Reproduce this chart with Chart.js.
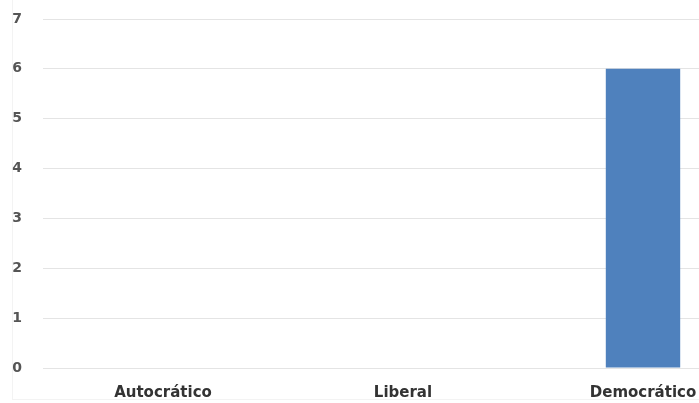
<!DOCTYPE html>
<html>
<head>
<meta charset="utf-8">
<script src="https://cdn.jsdelivr.net/npm/chart.js@4/dist/chart.umd.min.js"></script>
<style>
  html, body { margin: 0; padding: 0; background: #fff; }
  #wrap { position: relative; width: 699px; height: 403px; overflow: hidden; }
  #frame { position: absolute; left: 12px; top: 0; width: 700px; height: 399px;
           border-left: 1px solid #f3f3f3; border-bottom: 1px solid #f3f3f3; }
  canvas { position: absolute; left: 0; top: 0; }
</style>
</head>
<body>
<div id="wrap">
  <div id="frame"></div>
  <canvas id="grafico" width="770" height="403"></canvas>
</div>
<script>
// estilos de liderazgo y cantidad de respuestas
var estilos = ["Autocrático", "Liberal", "Democrático"];
var respuestas = [0, 0, 6];
var marcasY = [0, 1, 2, 3, 4, 5, 6, 7];

var ctx = document.getElementById("grafico").getContext("2d");
var grafico = new Chart(ctx, {
  type: 'bar',
  data: {
    labels: estilos,
    datasets: [{
      data: respuestas,
      backgroundColor: '#4f81bd',
      barPercentage: 0.31,
      categoryPercentage: 1
    }]
  },
  options: {
    responsive: false,
    animation: false,
    layout: { padding: { top: 19, right: 7, left: 0, bottom: 0 } },
    plugins: { legend: { display: false }, tooltip: { enabled: false } },
    scales: {
      x: {
        grid: { display: false, drawTicks: false },
        border: { display: false },
        ticks: {
          padding: 16,
          color: '#333333',
          font: { family: 'DejaVu Sans', size: 15, weight: 'bold' }
        },
        afterFit: function(scale) { scale.height = 35; }
      },
      y: {
        min: 0,
        max: 7,
        afterBuildTicks: function(scale) {
          scale.ticks = marcasY.map(function(v) { return { value: v }; });
        },
        grid: { color: '#e4e4e4', drawTicks: false },
        border: { display: false },
        ticks: {
          padding: 21,
          color: '#555555',
          font: { family: 'DejaVu Sans', size: 14, weight: 'bold' }
        },
        afterFit: function(scale) {
          scale.width = 43;
          // el padding de las marcas no debe empujar el área del gráfico
          scale.paddingTop = 0;
          scale.paddingBottom = 0;
        }
      }
    }
  }
});
</script>
</body>
</html>
